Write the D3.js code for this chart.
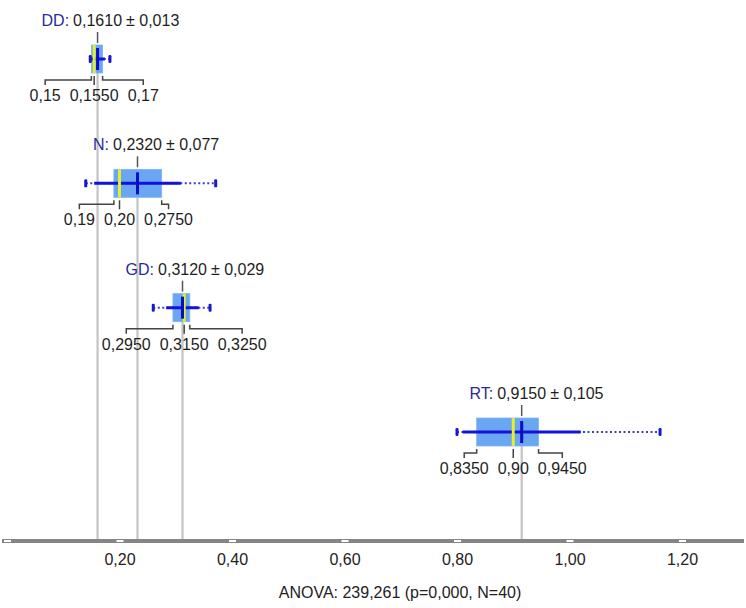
<!DOCTYPE html>
<html><head><meta charset="utf-8">
<script src="https://cdn.jsdelivr.net/npm/d3@7"></script>
<style>
html,body{margin:0;padding:0;background:#fff;}
svg{display:block;font-family:"Liberation Sans",Arial,sans-serif;}
</style></head>
<body><svg id="c" width="746" height="608"></svg>
<script>
const groups = ["DD", "N", "GD", "RT"];
const means = [0.1610, 0.2320, 0.3120, 0.9150];
const sds = [0.013, 0.077, 0.029, 0.105];
const q1s = [0.15, 0.19, 0.2950, 0.8350];
const medians = [0.155, 0.20, 0.3150, 0.90];
const q3s = [0.17, 0.2750, 0.3250, 0.9450];
const mins = [0.148, 0.140, 0.260, 0.800];
const maxs = [0.183, 0.371, 0.361, 1.161];
const tickValues = [0, 0.2, 0.4, 0.6, 0.8, 1.0, 1.2];
const tickLabels = ["", "0,20", "0,40", "0,60", "0,80", "1,00", "1,20"];
const anovaText = "ANOVA: 239,261 (p=0,000, N=40)";

const data = groups.map((g, i) => ({g, mean: means[i], sd: sds[i], q1: q1s[i], med: medians[i], q3: q3s[i], min: mins[i], max: maxs[i]}));

const svg = d3.select("#c");
const x = d3.scaleLinear().domain([0, 1.3]).range([7, 738.25]);
const y = d3.scalePoint().domain(groups).range([59, 432]);
const axisY = 541;
const boxH = 28;
const fs = 16;

const comma = s => s.replace(".", ",");
const fmtQ = v => comma(Math.abs(v * 100 - Math.round(v * 100)) < 1e-9 ? v.toFixed(2) : v.toFixed(4));

// reference lines at means
svg.append("g").selectAll("line").data(data).join("line")
  .attr("x1", d => x(d.mean)).attr("x2", d => x(d.mean))
  .attr("y1", d => y(d.g) - boxH / 2).attr("y2", axisY)
  .attr("stroke", "#c4c4c4").attr("stroke-width", 2.2);

// axis
svg.append("rect").attr("x", 2).attr("y", axisY - 2).attr("width", 742).attr("height", 4).attr("fill", "#858585");
const ax = d3.axisBottom(x).tickValues(tickValues).tickFormat((d, i) => tickLabels[i]).tickSize(0).tickPadding(13);
const axg = svg.append("g").attr("transform", `translate(0,${axisY})`).call(ax);
axg.select(".domain").remove();
axg.selectAll(".tick text").attr("font-size", fs).attr("fill", "#222").attr("font-family", "Liberation Sans, Arial, sans-serif");
axg.selectAll(".tick").append("rect").attr("x", -3.5).attr("y", -1).attr("width", 7).attr("height", 2).attr("fill", "#fff");

svg.append("text").attr("x", 400).attr("y", 598).attr("text-anchor", "middle")
  .attr("font-size", fs).attr("fill", "#222").text(anovaText);

const G = svg.append("g").selectAll("g").data(data).join("g");

G.each(function(d) {
  const g = d3.select(this);
  const cy = y(d.g);
  const top = cy - boxH / 2, bot = cy + boxH / 2;
  const mx = x(d.mean);
  // tick above
  g.append("line").attr("x1", mx).attr("x2", mx).attr("y1", cy - 27).attr("y2", top - 2)
    .attr("stroke", "#555").attr("stroke-width", 1.5);
  // box
  g.append("rect").attr("x", x(d.q1)).attr("y", top).attr("width", x(d.q3) - x(d.q1)).attr("height", boxH)
    .attr("fill", "#6aa6f2").attr("stroke", "#80b4f4").attr("stroke-width", 0.8);
  // dotted whiskers min..max
  g.append("line").attr("x1", x(d.min)).attr("x2", x(d.max)).attr("y1", cy).attr("y2", cy)
    .attr("stroke", "#3a3aee").attr("stroke-width", 2).attr("stroke-dasharray", "2,2.5");
  // solid mean ± sd
  g.append("line").attr("x1", Math.max(x(d.mean - d.sd), x(d.min))).attr("x2", Math.min(x(d.mean + d.sd), x(d.max)))
    .attr("y1", cy).attr("y2", cy).attr("stroke", "#1212dc").attr("stroke-width", 3);
  // end caps
  [d.min, d.max].forEach(v => g.append("rect").attr("x", x(v) - 1.5).attr("y", cy - 4).attr("width", 3).attr("height", 8)
    .attr("rx", 1.2).attr("fill", "#1818c8"));
  // median yellow
  g.append("line").attr("x1", x(d.med)).attr("x2", x(d.med)).attr("y1", top).attr("y2", bot)
    .attr("stroke", "#e4f02c").attr("stroke-width", 3);
  // mean mark
  g.append("line").attr("x1", mx).attr("x2", mx).attr("y1", top + 3).attr("y2", bot - 3)
    .attr("stroke", "#0c0cc4").attr("stroke-width", 3);

  // top label
  const ly = cy - 33;
  const meanT = g.append("text").attr("x", mx).attr("y", ly).attr("text-anchor", "middle")
    .attr("font-size", fs).attr("fill", "#1e1e1e").text(d.mean.toFixed(4).replace(".", ","));
  const mw = meanT.node().getComputedTextLength();
  g.append("text").attr("x", mx - mw / 2 - 4).attr("y", ly).attr("text-anchor", "end")
    .attr("font-size", fs).attr("fill", "#2a2aa0").text(d.g + ":");
  g.append("text").attr("x", mx + mw / 2 + 4).attr("y", ly).attr("text-anchor", "start")
    .attr("font-size", fs).attr("fill", "#1e1e1e").text("± " + d.sd.toFixed(3).replace(".", ","));

  // bottom labels
  const by = bot + 28;
  const gap = 9;
  const medT = g.append("text").attr("x", x(d.med)).attr("y", by).attr("text-anchor", "middle")
    .attr("font-size", fs).attr("fill", "#1e1e1e").text(fmtQ(d.med));
  const medW = medT.node().getComputedTextLength();
  const q1T = g.append("text").attr("y", by).attr("text-anchor", "middle")
    .attr("font-size", fs).attr("fill", "#1e1e1e").text(fmtQ(d.q1));
  const q1W = q1T.node().getComputedTextLength();
  const q1c = Math.min(x(d.q1), x(d.med) - medW / 2 - gap - q1W / 2);
  q1T.attr("x", q1c);
  const q3T = g.append("text").attr("y", by).attr("text-anchor", "middle")
    .attr("font-size", fs).attr("fill", "#1e1e1e").text(fmtQ(d.q3));
  const q3W = q3T.node().getComputedTextLength();
  const q3c = Math.max(x(d.q3), x(d.med) + medW / 2 + gap + q3W / 2);
  q3T.attr("x", q3c);

  const b0 = bot + 3, b1 = bot + 7, b2 = bot + 12;
  const br = (from, to) => g.append("path")
    .attr("d", `M${from},${b0}V${b1}H${to}V${b2}`)
    .attr("fill", "none").attr("stroke", "#444").attr("stroke-width", 1.5);
  br(x(d.q1), q1c);
  br(x(d.q3), q3c);
  g.append("line").attr("x1", x(d.med)).attr("x2", x(d.med)).attr("y1", b0).attr("y2", b2)
    .attr("stroke", "#444").attr("stroke-width", 1.5);
});
</script></body></html>
